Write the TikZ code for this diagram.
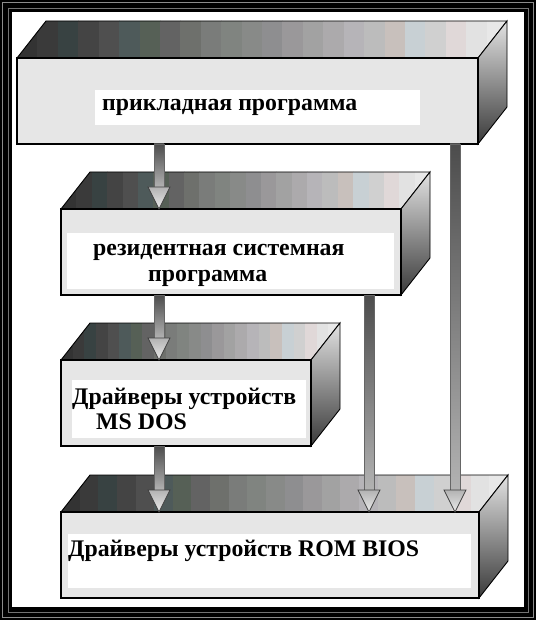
\documentclass[tikz,border=0pt]{standalone}
\usepackage{fontspec}
\setmainfont{Liberation Serif}
\usetikzlibrary{calc}
\definecolor{band1}{HTML}{333333}
\definecolor{band2}{HTML}{3A3A3A}
\definecolor{band3}{HTML}{384242}
\definecolor{band4}{HTML}{444444}
\definecolor{band5}{HTML}{4F4F4F}
\definecolor{band6}{HTML}{4E5A5A}
\definecolor{band7}{HTML}{566056}
\definecolor{band8}{HTML}{636363}
\definecolor{band9}{HTML}{6E706C}
\definecolor{band10}{HTML}{7A7C7A}
\definecolor{band11}{HTML}{808480}
\definecolor{band12}{HTML}{888A88}
\definecolor{band13}{HTML}{8E8E90}
\definecolor{band14}{HTML}{9A989A}
\definecolor{band15}{HTML}{A2A2A2}
\definecolor{band16}{HTML}{ACAAAC}
\definecolor{band17}{HTML}{B6B4B8}
\definecolor{band18}{HTML}{BCBCBC}
\definecolor{band19}{HTML}{C8C0BC}
\definecolor{band20}{HTML}{C8D0D4}
\definecolor{band21}{HTML}{D0D0D0}
\definecolor{band22}{HTML}{E0D8D8}
\definecolor{band23}{HTML}{E2E2E2}
\definecolor{band24}{HTML}{E8E8E8}
\definecolor{faceGray}{HTML}{E6E6E6}
\tikzset{
  frontface/.style={draw=black, line width=1.3pt, fill=faceGray, inner sep=0pt, outer sep=0pt},
  edge/.style={draw=black, line width=0.9pt},
  sideface/.style={draw=black, line width=0.9pt, top color=band23, middle color=band12, bottom color=band2},
  labelbox/.style={fill=white, inner sep=0pt, outer sep=0pt, anchor=north west},
  boxtext/.style={font=\fontsize{23.8}{25}\selectfont\bfseries, inner sep=0pt, anchor=base west},
  shaft/.style={draw=black!60, line width=0.6pt, top color=black!70, bottom color=black!30},
  arrowhead/.style={draw=black!75, line width=0.7pt, top color=black!30, bottom color=black!8},
}
\def\dx{29}
\def\dy{37}
\newcommand\cuboid[5]{%
  \pgfmathsetmacro\bw{(#4-#2+\dx)/24}%
  \begin{scope}
    \clip (#2,#3) -- (#4,#3) -- ({#4+\dx},{#3-\dy}) -- ({#2+\dx},{#3-\dy}) -- cycle;
    \foreach \i in {1,...,24}{
      \fill[fill=band\i] ({#2+(\i-1)*\bw},{#3-\dy-1}) rectangle ({#2+\i*\bw+0.6},{#3+1});
    }
  \end{scope}
  \draw[edge] (#2,#3) -- ({#2+\dx},{#3-\dy}) -- ({#4+\dx},{#3-\dy}) -- (#4,#3);
  \shade[sideface] (#4,#3) -- ({#4+\dx},{#3-\dy}) -- ({#4+\dx},{#5-\dy}) -- (#4,#5) -- cycle;
  \node[frontface, minimum width={(#4-#2)*1pt}, minimum height={(#5-#3)*1pt}, anchor=north west] (#1) at (#2,#3) {};
}
\newcommand\fatarrow[2]{%
  \shade[shaft] ($(#1)+(-5,0)$) rectangle ($(#2)+(5,-22)$);
  \shade[arrowhead] ($(#2)+(-11,-22)$) -- (#2) -- ($(#2)+(11,-22)$) -- cycle;
}
\begin{document}
\begin{tikzpicture}[x=1pt,y=-1pt]
\useasboundingbox (0,0) rectangle (536,620);
% frame
\fill[black] (0,0) rectangle (536,620);
\draw[black!45, line width=1pt] (2.5,2.5) rectangle (533.5,617.5);
\draw[black!55, line width=0.8pt] (8,8) rectangle (528,612);
\fill[white] (12,12) rectangle (524,607);
% boxes
\cuboid{b1}{17}{58}{478}{144}
\cuboid{b2}{61}{209}{401}{295}
\cuboid{b3}{61}{360}{311}{446}
\cuboid{b4}{61}{512}{479}{598}
% labels
\node[labelbox, minimum width=325pt, minimum height=35pt] (l1) at (95,90) {};
\node[labelbox, minimum width=327pt, minimum height=56pt] (l2) at (67,233) {};
\node[labelbox, minimum width=234pt, minimum height=58pt] (l3) at (72,380) {};
\node[labelbox, minimum width=403pt, minimum height=54pt] (l4) at (68,534) {};
\node[boxtext] (t1) at (102,111) {прикладная программа};
\node[boxtext] (t2a) at (93,255) {резидентная системная};
\node[boxtext] (t2b) at (148,281) {программа};
\node[boxtext] (t3a) at (72,404) {Драйверы устройств};
\node[boxtext] (t3b) at (96,429) {MS DOS};
\node[boxtext] (t4) at (68,556) {Драйверы устройств ROM BIOS};
% arrows
\coordinate (xa) at (159,0);
\coordinate (xb) at (369,0);
\coordinate (xc) at (455,0);
\coordinate (a1s) at (b1.south -| xa);
\coordinate (a1e) at (b2.north -| xa);
\coordinate (a2s) at (b2.south -| xa);
\coordinate (a2e) at (b3.north -| xa);
\coordinate (a3s) at (b3.south -| xa);
\coordinate (a3e) at (b4.north -| xa);
\coordinate (a4s) at (b2.south -| xb);
\coordinate (a4e) at (b4.north -| xb);
\coordinate (a5s) at (b1.south -| xc);
\coordinate (a5e) at (b4.north -| xc);
\fatarrow{a1s}{a1e}
\fatarrow{a2s}{a2e}
\fatarrow{a3s}{a3e}
\fatarrow{a4s}{a4e}
\fatarrow{a5s}{a5e}
\end{tikzpicture}
\end{document}
